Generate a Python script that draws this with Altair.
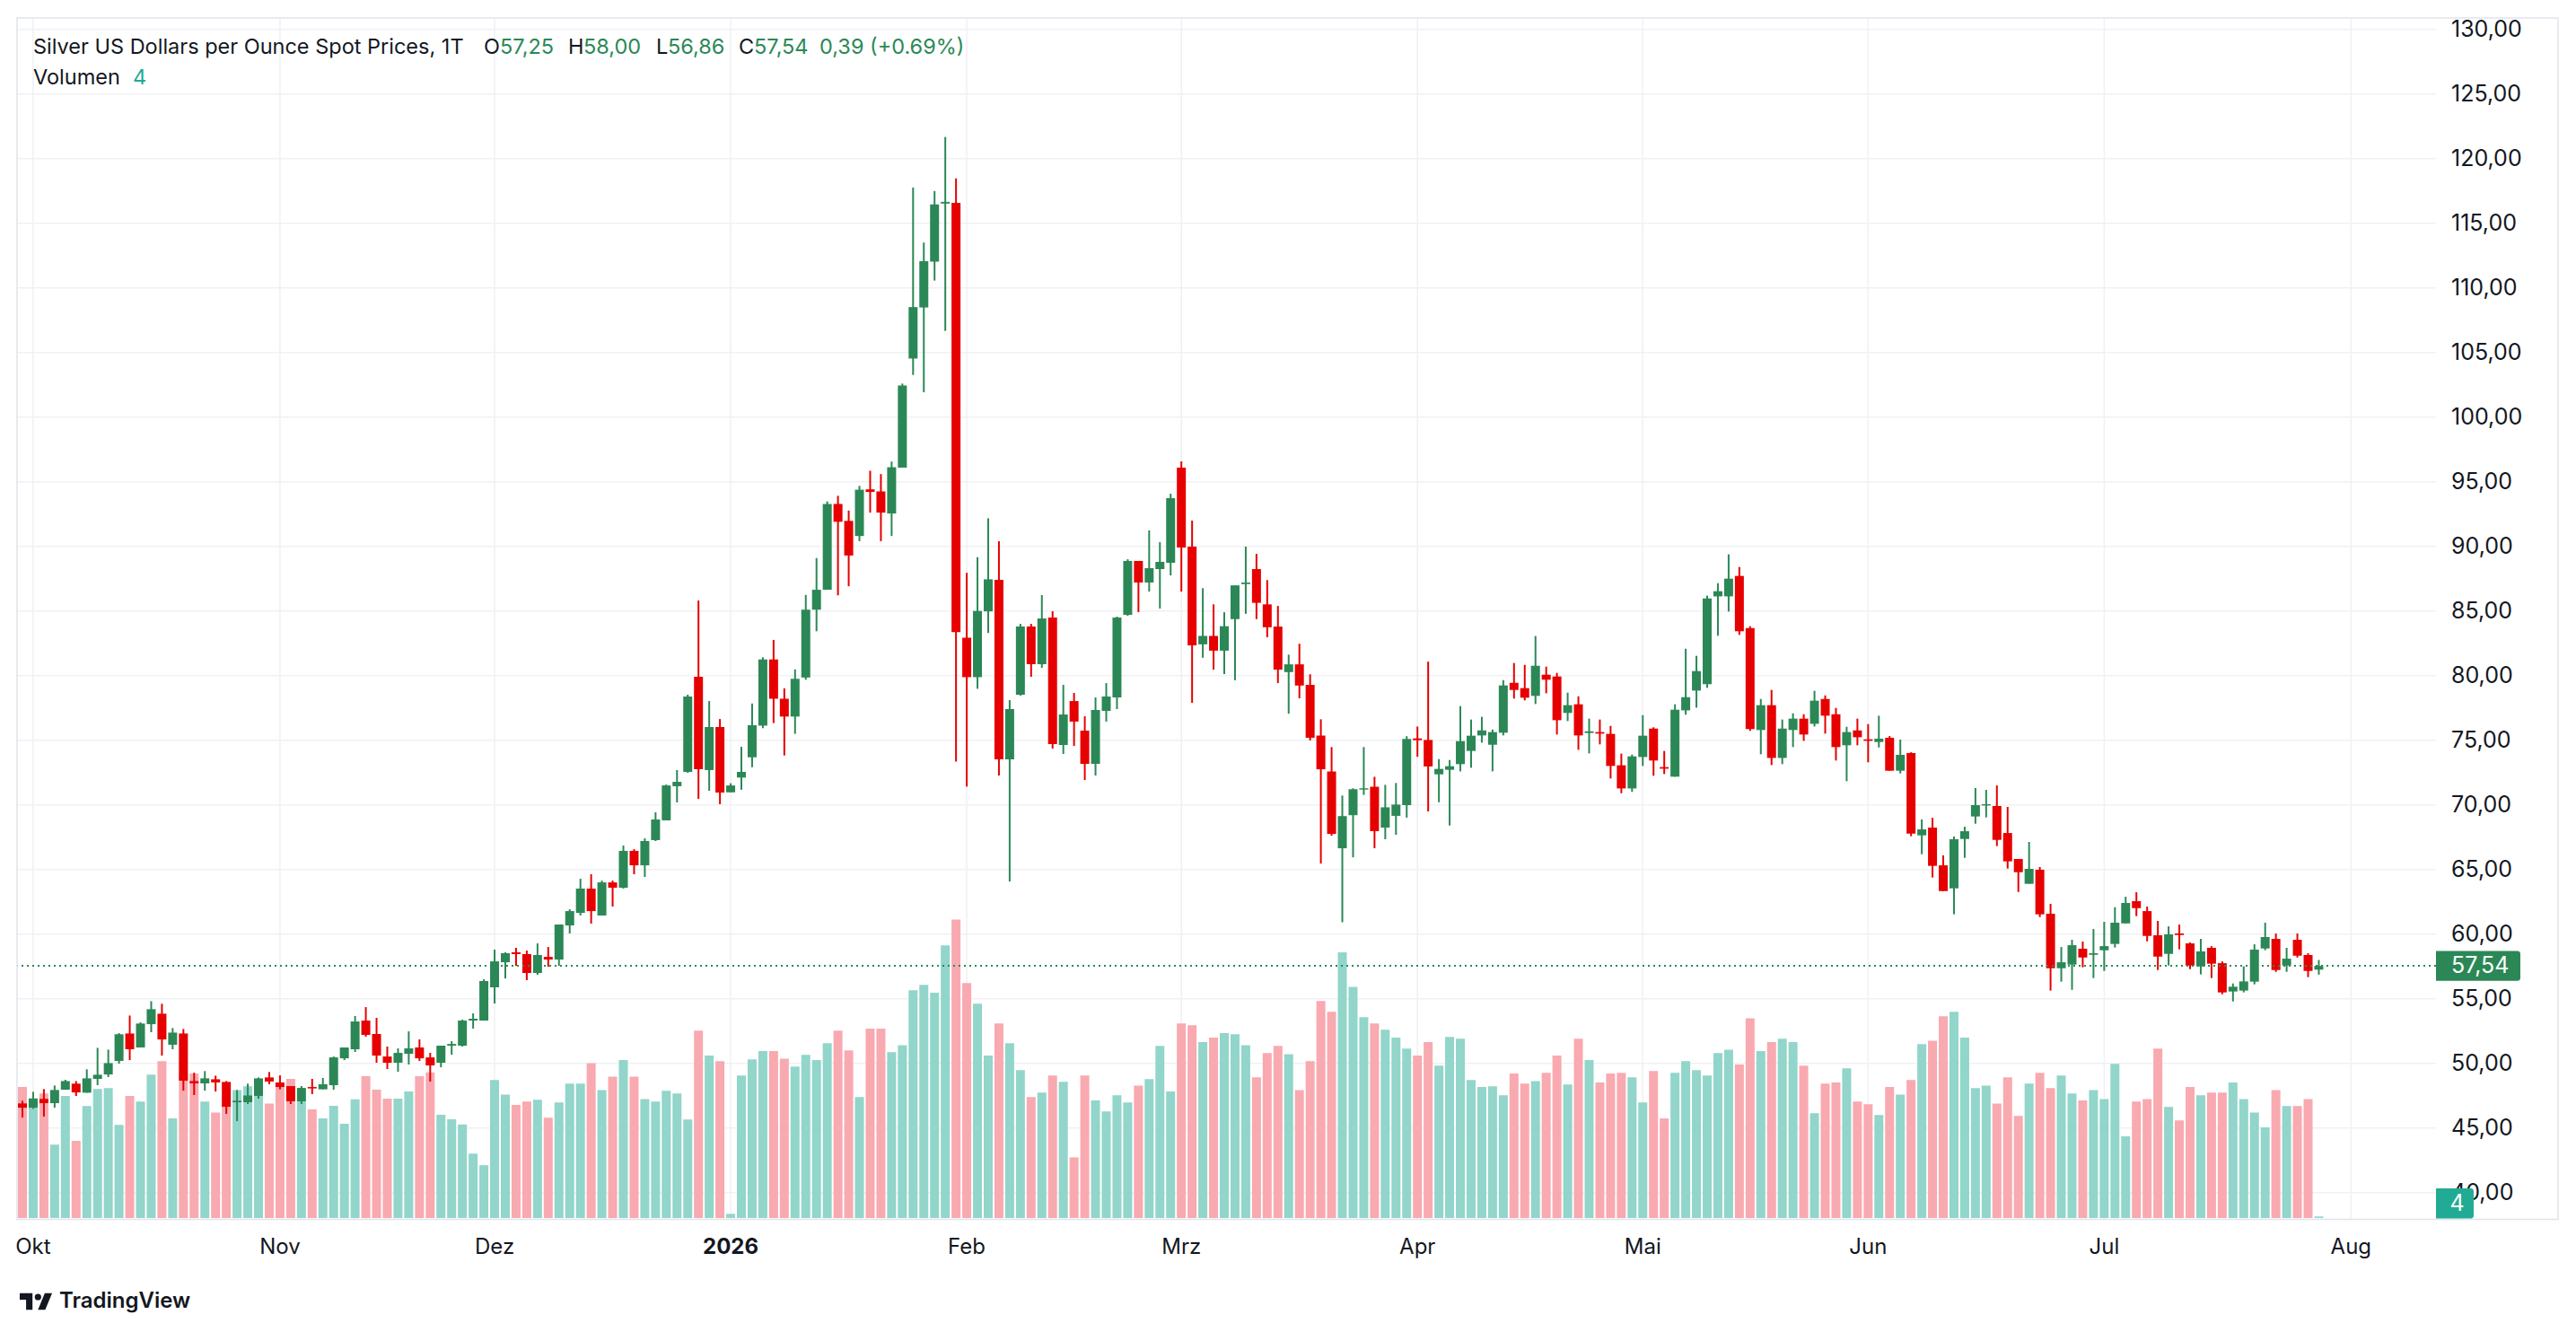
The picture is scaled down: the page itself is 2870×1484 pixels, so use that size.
import pandas as pd
import altair as alt

# ---- daily OHLC + volume, one entry per trading day (first bar is the one just before October) ----
FIRST_BAR = -1

opens = [
    46.90, 46.57, 47.25, 46.92, 47.96, 48.43, 47.73, 48.80, 49.14, 50.19,
    52.31, 51.23, 53.03, 53.84, 51.44, 52.31, 48.63, 48.45, 48.77, 48.56,
    46.99, 46.99, 47.48, 48.91, 48.52, 48.24, 47.06, 48.17, 47.99, 48.31,
    50.39, 51.09, 53.31, 52.27, 50.53, 50.05, 50.74, 51.23, 50.46, 50.05,
    51.37, 51.37, 53.31, 53.31, 55.88, 57.82, 58.59, 58.45, 56.99, 58.24,
    58.03, 60.67, 61.64, 63.52, 61.44, 64.00, 63.59, 66.44, 65.32, 67.27,
    68.80, 71.44, 72.55, 79.91, 72.69, 76.02, 70.97, 72.11, 73.68, 76.13,
    81.25, 78.21, 76.83, 79.85, 85.10, 86.64, 93.28, 91.97, 90.80, 94.41,
    94.25, 92.54, 96.09, 104.53, 108.48, 112.03, 116.52, 116.58, 82.93, 79.88,
    84.97, 87.41, 73.52, 78.52, 83.80, 80.88, 84.49, 74.63, 78.03, 75.74,
    73.17, 77.27, 78.31, 84.70, 88.87, 87.20, 88.24, 88.73, 96.09, 89.98,
    82.42, 83.07, 81.93, 84.37, 87.08, 88.24, 85.51, 83.79, 80.27, 80.87,
    79.28, 75.36, 72.58, 66.64, 69.20, 71.18, 71.40, 68.24, 69.15, 69.98,
    75.14, 75.02, 72.36, 72.71, 73.15, 74.17, 75.37, 74.65, 75.58, 79.44,
    79.03, 78.43, 80.07, 79.93, 77.11, 77.78, 75.56, 75.63, 75.49, 73.06,
    71.27, 73.70, 75.90, 72.92, 72.18, 77.31, 78.84, 79.33, 86.13, 86.13,
    87.71, 83.68, 75.79, 77.71, 73.63, 75.79, 76.67, 76.27, 78.19, 77.01,
    74.61, 75.76, 75.07, 74.86, 75.19, 72.64, 74.00, 67.64, 68.24, 65.32,
    63.54, 67.36, 69.10, 69.95, 69.91, 67.82, 65.81, 63.89, 64.98, 61.57,
    57.36, 57.64, 58.87, 58.40, 58.75, 59.24, 60.83, 62.55, 61.78, 59.91,
    58.47, 60.05, 59.28, 57.50, 58.94, 57.75, 55.56, 55.63, 56.32, 58.89,
    59.63, 57.57, 59.56, 58.38, 57.25,
]
highs = [
    47.10, 47.80, 48.01, 48.29, 48.73, 48.63, 49.54, 51.20, 51.06, 52.34,
    53.70, 53.17, 54.81, 54.61, 52.73, 52.66, 49.28, 49.40, 49.05, 48.63,
    47.94, 48.43, 48.91, 49.33, 49.07, 48.24, 48.24, 48.80, 48.87, 50.53,
    51.23, 53.66, 54.35, 53.52, 51.30, 51.16, 52.48, 51.85, 50.81, 51.37,
    51.71, 53.38, 53.87, 56.50, 58.80, 58.59, 58.94, 58.73, 59.28, 59.00,
    60.74, 61.92, 64.28, 64.63, 64.14, 64.14, 66.85, 66.57, 67.41, 69.42,
    71.57, 72.69, 78.52, 85.81, 78.03, 76.64, 71.67, 74.49, 77.84, 81.42,
    82.76, 79.01, 80.48, 86.24, 89.09, 93.48, 93.91, 92.77, 94.68, 95.85,
    95.59, 96.56, 102.59, 117.76, 113.50, 117.49, 121.67, 118.46, 87.95, 89.16,
    92.17, 90.39, 78.10, 84.00, 84.00, 86.23, 84.98, 79.28, 78.66, 76.85,
    78.31, 79.42, 84.56, 89.00, 88.87, 91.23, 90.32, 94.07, 96.57, 91.99,
    86.76, 85.51, 84.90, 86.98, 89.98, 89.42, 87.39, 85.39, 81.62, 82.46,
    80.10, 76.62, 74.47, 70.72, 71.28, 74.47, 72.17, 71.55, 71.69, 75.31,
    76.06, 81.08, 73.54, 73.47, 77.64, 76.60, 76.81, 75.83, 79.65, 80.97,
    80.83, 83.06, 80.69, 80.21, 78.68, 78.40, 76.67, 76.60, 76.11, 73.96,
    73.89, 76.94, 76.00, 74.17, 77.78, 82.08, 81.53, 86.18, 87.15, 89.38,
    88.40, 83.82, 78.19, 78.89, 76.60, 77.08, 77.01, 78.82, 78.47, 77.50,
    76.04, 76.67, 76.25, 76.90, 75.32, 75.05, 74.07, 68.87, 69.00, 66.09,
    67.55, 68.31, 71.30, 71.16, 71.50, 69.84, 65.81, 67.13, 65.19, 62.34,
    59.00, 59.56, 59.42, 60.39, 60.95, 62.08, 62.89, 63.24, 62.13, 61.02,
    60.60, 60.74, 59.35, 59.63, 59.07, 57.89, 56.18, 57.50, 59.21, 60.88,
    60.05, 58.94, 60.05, 58.52, 58.00,
]
lows = [
    45.80, 46.48, 45.88, 46.57, 47.96, 47.48, 47.73, 48.31, 48.94, 49.98,
    50.25, 51.23, 52.41, 50.60, 51.09, 47.89, 47.55, 47.89, 47.82, 46.09,
    45.53, 46.85, 47.27, 48.38, 47.99, 46.85, 46.85, 47.62, 47.99, 47.96,
    50.25, 50.88, 52.06, 50.05, 49.56, 49.35, 49.91, 50.19, 48.59, 49.70,
    50.67, 51.30, 52.69, 53.31, 54.63, 56.57, 57.55, 56.44, 56.85, 57.48,
    57.55, 60.05, 61.44, 60.81, 61.44, 62.13, 63.52, 64.63, 64.42, 67.20,
    68.80, 70.19, 72.48, 70.46, 71.09, 70.05, 70.97, 71.17, 72.91, 75.93,
    76.33, 73.82, 75.49, 79.68, 83.43, 86.64, 86.21, 86.91, 90.40, 92.61,
    90.40, 90.80, 96.09, 103.26, 101.92, 110.56, 106.67, 73.35, 71.41, 78.98,
    83.30, 72.27, 64.07, 78.45, 79.91, 80.60, 74.35, 73.94, 74.56, 71.92,
    72.27, 76.44, 77.41, 84.63, 84.91, 86.50, 85.19, 87.75, 86.50, 77.89,
    81.38, 80.46, 80.12, 79.64, 84.78, 84.37, 82.97, 79.42, 77.05, 78.24,
    74.98, 65.46, 67.61, 60.92, 65.94, 70.77, 66.64, 67.34, 67.68, 69.01,
    73.72, 69.49, 70.20, 68.40, 72.59, 72.87, 74.81, 72.59, 75.37, 78.22,
    78.08, 77.80, 78.63, 75.44, 76.48, 74.26, 73.98, 74.68, 72.04, 70.90,
    71.00, 73.01, 72.25, 72.38, 72.18, 76.97, 77.52, 79.05, 83.08, 84.95,
    83.15, 75.72, 73.91, 73.08, 73.15, 74.47, 74.95, 76.06, 75.51, 73.43,
    71.83, 74.61, 73.29, 74.44, 72.64, 72.43, 67.57, 66.18, 64.38, 63.33,
    61.53, 65.90, 68.54, 69.03, 66.81, 65.07, 63.26, 63.89, 61.32, 55.63,
    56.32, 55.69, 57.43, 56.60, 57.15, 58.96, 60.83, 61.39, 59.44, 57.22,
    57.57, 58.82, 57.29, 56.88, 56.60, 55.35, 54.79, 55.49, 56.11, 58.75,
    57.08, 57.08, 58.19, 56.67, 56.86,
]
closes = [
    46.57, 47.27, 46.92, 47.94, 48.63, 47.75, 48.84, 49.12, 50.02, 52.25,
    51.09, 53.08, 54.19, 51.85, 52.38, 48.66, 48.45, 48.84, 48.52, 46.64,
    47.11, 47.52, 48.84, 48.59, 48.17, 47.06, 48.10, 48.06, 48.38, 50.46,
    51.23, 53.24, 52.20, 50.60, 50.05, 50.81, 51.16, 50.39, 49.84, 51.37,
    51.50, 53.31, 53.45, 56.37, 57.89, 58.52, 58.45, 56.99, 58.38, 58.03,
    60.74, 61.78, 63.52, 61.78, 64.00, 63.59, 66.44, 65.32, 67.20, 68.87,
    71.50, 71.78, 78.38, 72.75, 76.02, 70.95, 71.50, 72.55, 76.16, 81.25,
    78.21, 76.83, 79.75, 85.10, 86.64, 93.28, 91.90, 89.29, 94.38, 94.21,
    92.61, 96.12, 102.45, 108.51, 112.06, 116.45, 116.65, 83.36, 79.88, 85.00,
    87.45, 73.52, 77.41, 83.80, 80.88, 84.42, 74.70, 76.99, 76.44, 73.17,
    77.34, 78.38, 84.49, 88.87, 87.20, 88.31, 88.80, 93.73, 89.91, 82.34,
    83.07, 81.93, 83.82, 86.98, 87.20, 85.63, 83.74, 80.46, 80.87, 79.23,
    75.19, 72.75, 67.75, 69.13, 71.21, 71.28, 67.97, 69.81, 70.02, 75.10,
    75.00, 72.97, 72.78, 72.99, 74.93, 75.35, 75.76, 75.63, 79.24, 78.89,
    78.29, 80.76, 79.68, 76.55, 77.71, 75.37, 75.69, 75.51, 73.01, 71.27,
    73.75, 75.35, 73.43, 72.80, 77.36, 78.33, 80.35, 85.97, 86.53, 87.50,
    83.43, 75.86, 77.71, 73.63, 75.90, 76.67, 75.44, 78.06, 76.90, 74.47,
    75.63, 75.23, 74.95, 75.12, 72.64, 73.87, 67.78, 68.10, 65.28, 63.33,
    67.34, 67.96, 69.98, 70.05, 67.29, 65.63, 64.79, 65.05, 61.53, 57.36,
    57.82, 59.14, 58.19, 58.52, 59.07, 60.88, 62.41, 62.01, 59.86, 58.26,
    59.98, 59.93, 57.57, 58.66, 57.71, 55.49, 55.93, 56.34, 58.80, 59.77,
    57.22, 58.10, 58.33, 57.15, 57.54,
]
volumes = [
    350, 320, 333, 196, 326, 206, 299, 345, 347, 249,
    326, 311, 383, 419, 266, 386, 386, 311, 282, 298,
    342, 352, 326, 306, 353, 372, 312, 290, 266, 300,
    252, 317, 379, 343, 319, 319, 338, 379, 389, 276,
    264, 250, 172, 141, 369, 330, 302, 311, 316, 268,
    309, 359, 359, 414, 342, 378, 422, 378, 318, 311,
    340, 333, 263, 501, 434, 419, 11, 381, 424, 446,
    446, 426, 405, 436, 422, 467, 501, 448, 323, 506,
    506, 443, 462, 609, 623, 602, 729, 798, 628, 573,
    434, 520, 467, 395, 323, 335, 381, 364, 162, 381,
    314, 285, 328, 309, 354, 371, 460, 338, 520, 515,
    470, 482, 494, 491, 462, 376, 441, 460, 438, 342,
    419, 580, 551, 710, 618, 537, 520, 503, 482, 453,
    434, 470, 407, 484, 479, 369, 350, 352, 328, 386,
    359, 366, 388, 434, 357, 479, 422, 362, 386, 388,
    376, 309, 393, 266, 388, 419, 395, 381, 441, 450,
    410, 534, 446, 470, 479, 470, 407, 280, 359, 362,
    400, 311, 304, 275, 350, 330, 369, 465, 474, 539,
    551, 482, 347, 354, 306, 376, 273, 359, 388, 347,
    381, 333, 314, 342, 318, 412, 218, 311, 318, 453,
    297, 261, 350, 328, 335, 335, 362, 318, 282, 242,
    342, 299, 299, 318, 4,
]

# month boundaries on the bar axis
month_ticks = [0, 23, 43, 65, 87, 107, 129, 150, 171, 193, 216]
month_labels = ["Okt", "Nov", "Dez", "2026", "Feb", "Mrz", "Apr", "Mai", "Jun", "Jul", "Aug"]
year_label = "2026"
price_ticks = list(range(40, 131, 5))

last_close_label = "57,54"
last_volume_label = "4"

# legend line: (text, x, tone)
legend_line1 = [
    ("Silver US Dollars per Ounce Spot Prices, 1T", 18, "dark"),
    ("O", 520, "dark"), ("57,25", 538, "up"),
    ("H", 614, "dark"), ("58,00", 631, "up"),
    ("L", 712, "dark"), ("56,86", 725, "up"),
    ("C", 804, "dark"), ("57,54", 821, "up"),
    ("0,39 (+0.69%)", 894, "up"),
]
legend_line2 = [("Volumen", 18, "dark"), ("4", 129, "teal")]

# ---- styling ----
FONT = "Inter"
TEXT = "#131722"
UP = "#2b8856"
DOWN = "#e60000"
VOL_UP = "#92d5ca"
VOL_DOWN = "#f9a9b0"
TEAL = "#22ab94"
GRID = "#f0f1f4"
BORDER = "#e0e3eb"
PALETTE = {"dark": TEXT, "up": UP, "teal": TEAL}
MONTH_FS = 24
PRICE_FS = 25
LEGEND_FS = 23.5

W, H = 2695, 1339          # pane size; the price scale column sits to its right
FRAME_W = 2831             # outer frame including the price scale column
X_DOMAIN = [-1.0833, 223.5]
PRICE_DOMAIN = [37.896, 130.88]
VOL_DOMAIN = [-5, 3209]

bars = pd.DataFrame({
    "bar": list(range(FIRST_BAR, FIRST_BAR + len(opens))),
    "open": opens, "high": highs, "low": lows, "close": closes, "volume": volumes,
})
months = pd.DataFrame({"bar": month_ticks, "label": month_labels})
levels = pd.DataFrame({
    "price": price_ticks,
    "label": [f"{p:.2f}".replace(".", ",") for p in price_ticks],
})

up_test = "datum.close >= datum.open"
x_scale = alt.Scale(domain=X_DOMAIN, nice=False, zero=False)
price_scale = alt.Scale(domain=PRICE_DOMAIN, nice=False, zero=False)
vol_scale = alt.Scale(domain=VOL_DOMAIN, nice=False, zero=False)

x_bar = alt.X("bar:Q", scale=x_scale, axis=None)


def price_y(field):
    return alt.Y(field, scale=price_scale, axis=None)


# grid lines (vertical at month starts, horizontal every 5 USD)
grid_x = alt.Chart(months).mark_rule(color=GRID, strokeWidth=1.5).encode(x=x_bar)
grid_y = alt.Chart(levels).mark_rule(color=GRID, strokeWidth=1.5).encode(y=price_y("price:Q"))

# outer frame around pane + price scale column
frame = alt.Chart(pd.DataFrame({"t": ["frame"]})).mark_rect(
    fillOpacity=0, stroke=BORDER, strokeWidth=1.5
).encode(x=alt.value(0), x2=alt.value(FRAME_W), y=alt.value(0), y2=alt.value(H - 0.5))

# time axis labels under the pane (the year change is set in bold)
month_text = alt.Chart(months).transform_filter(
    f"datum.label != '{year_label}'"
).mark_text(
    align="center", baseline="middle", font=FONT, fontSize=MONTH_FS, color=TEXT
).encode(x=x_bar, y=alt.value(H + 31), text="label:N")
year_text = alt.Chart(months).transform_filter(
    f"datum.label == '{year_label}'"
).mark_text(
    align="center", baseline="middle", font=FONT, fontSize=MONTH_FS, fontWeight="bold", color=TEXT
).encode(x=x_bar, y=alt.value(H + 31), text="label:N")

# price scale labels on the right
price_text = alt.Chart(levels).mark_text(
    align="left", baseline="middle", font=FONT, fontSize=PRICE_FS, color=TEXT
).encode(x=alt.value(W + 17), y=price_y("price:Q"), text="label:N")

volume = alt.Chart(bars).mark_bar(size=10, clip=True).encode(
    x=x_bar,
    y=alt.Y("volume:Q", scale=vol_scale, axis=None),
    y2=alt.datum(0),
    color=alt.condition(up_test, alt.value(VOL_UP), alt.value(VOL_DOWN)),
)

wicks = alt.Chart(bars).mark_rule(strokeWidth=2, clip=True).encode(
    x=x_bar, y=price_y("low:Q"), y2="high:Q",
    color=alt.condition(up_test, alt.value(UP), alt.value(DOWN)),
)

bodies = alt.Chart(bars).mark_bar(size=10, clip=True).encode(
    x=x_bar, y=price_y("open:Q"), y2="close:Q",
    color=alt.condition(up_test, alt.value(UP), alt.value(DOWN)),
)

last = pd.DataFrame({"price": [closes[-1]], "label": [last_close_label]})
last_line = alt.Chart(last).mark_rule(strokeDash=[2, 4], strokeWidth=2, color=UP).encode(
    y=price_y("price:Q"),
)
last_box = alt.Chart(last).mark_rect(
    color=UP, yOffset=-16.7, y2Offset=16.7, cornerRadiusTopRight=3, cornerRadiusBottomRight=3
).encode(x=alt.value(W), x2=alt.value(W + 94), y=price_y("price:Q"), y2="price:Q")
last_text = alt.Chart(last).mark_text(
    align="left", baseline="middle", font=FONT, fontSize=PRICE_FS, color="white"
).encode(x=alt.value(W + 17), y=price_y("price:Q"), text="label:N")

# volume badge at the foot of the price scale
vol_badge = alt.Chart(pd.DataFrame({"t": [last_volume_label]})).mark_rect(
    color=TEAL, cornerRadiusTopRight=3, cornerRadiusBottomRight=3
).encode(x=alt.value(W), x2=alt.value(W + 42), y=alt.value(H - 35), y2=alt.value(H - 1.5))
vol_badge_text = alt.Chart(pd.DataFrame({"t": [last_volume_label]})).mark_text(
    align="center", baseline="middle", font=FONT, fontSize=PRICE_FS, color="white"
).encode(x=alt.value(W + 23.5), y=alt.value(H - 18), text="t:N")

legend_marks = []
for items, ypos in ((legend_line1, 33), (legend_line2, 67)):
    for txt, xpos, tone in items:
        legend_marks.append(
            alt.Chart(pd.DataFrame({"t": [txt]})).mark_text(
                align="left", baseline="middle", font=FONT, fontSize=LEGEND_FS, color=PALETTE[tone]
            ).encode(x=alt.value(xpos), y=alt.value(ypos), text="t:N")
        )

# TradingView mark and wordmark under the time axis
logo_path = (
    "M -0.211 0.507 L -0.606 0.507 L -0.606 -0.113 L -1 -0.113 L -1 -0.507 L -0.211 -0.507 Z "
    "M 0.577 0.507 L 0.127 0.507 L 0.549 -0.507 L 1 -0.507 Z"
)
logo = alt.Chart(pd.DataFrame({"t": ["logo"]})).mark_point(
    shape=logo_path, filled=True, size=1300, color=TEXT, opacity=1, strokeWidth=0
).encode(x=alt.value(21), y=alt.value(1430))
logo_dot = alt.Chart(pd.DataFrame({"t": ["dot"]})).mark_point(
    shape="circle", filled=True, size=52, color=TEXT, opacity=1, strokeWidth=0
).encode(x=alt.value(23.3), y=alt.value(1425))
wordmark = alt.Chart(pd.DataFrame({"t": ["TradingView"]})).mark_text(
    align="left", baseline="middle", font=FONT, fontSize=24, fontWeight=600, color=TEXT
).encode(x=alt.value(47), y=alt.value(1430), text="t:N")

chart = alt.layer(
    grid_x, grid_y, volume, wicks, bodies, last_line, frame,
    month_text, year_text, price_text, last_box, last_text, vol_badge, vol_badge_text,
    logo, logo_dot, wordmark, *legend_marks,
).resolve_scale(y="independent").properties(
    width=W, height=H,
    padding={"left": 19, "top": 20, "right": 2870 - 19 - W, "bottom": 1484 - 20 - H},
    autosize=alt.AutoSizeParams(type="none"),
    background="white",
).configure_view(strokeOpacity=0)

chart.save("out.html", embed_options={"renderer": "svg", "actions": False})
